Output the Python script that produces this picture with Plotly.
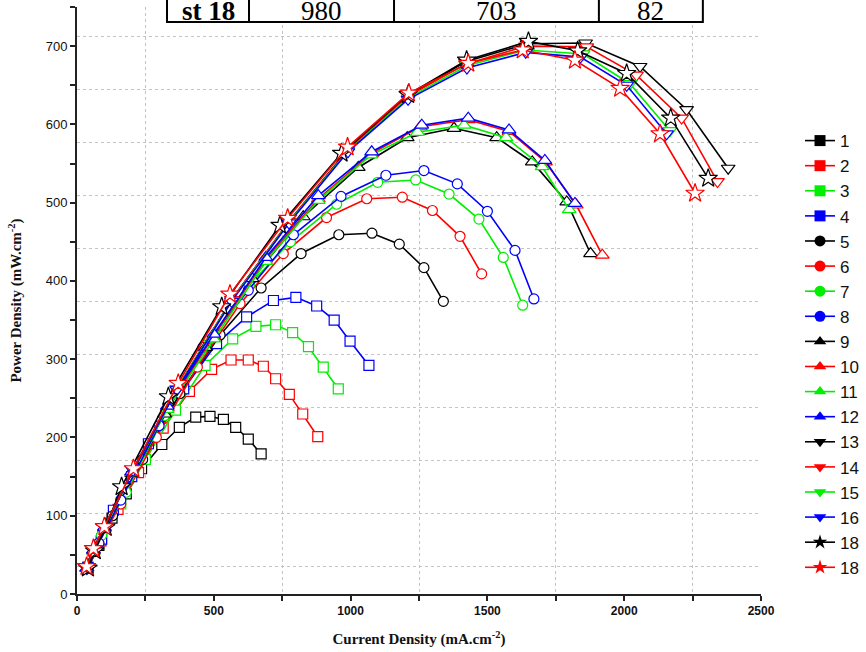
import plotly.graph_objects as go

# ---------------- data ----------------
names = ["1", "2", "3", "4", "5", "6", "7", "8", "9", "10", "11", "12",
         "13", "14", "15", "16", "18", "18"]
colors = ["#000000", "#ff0000", "#00ee00", "#0000ff"] * 4 + ["#000000", "#ff0000"]
symbols = ["square"] * 4 + ["circle"] * 4 + ["triangle-up"] * 4 + ["triangle-down"] * 4 + ["star"] * 2

x1 = [40, 80, 128, 180, 236, 310, 374, 434, 486, 535, 580, 626, 673]
y1 = [33, 62, 97, 128, 160, 191, 213, 226, 227, 223, 213, 198, 179]
x2 = [40, 88, 150, 225, 315, 411, 492, 563, 626, 681, 726, 776, 825, 880]
y2 = [34, 68, 108, 155, 212, 259, 287, 299, 299, 291, 275, 255, 230, 201]
x3 = [40, 90, 160, 250, 360, 468, 569, 654, 726, 788, 846, 900, 955]
y3 = [34, 70, 115, 172, 235, 292, 326, 342, 344, 334, 316, 290, 262]
x4 = [40, 90, 133, 200, 261, 390, 510, 620, 718, 800, 876, 940, 998, 1067]
y4 = [34, 70, 107, 150, 192, 262, 320, 354, 375, 379, 368, 350, 323, 292]
x5 = [38, 62, 130, 240, 376, 523, 673, 819, 957, 1078, 1178, 1268, 1339]
y5 = [33, 54, 100, 172, 256, 331, 391, 435, 459, 461, 447, 417, 374]
x6 = [38, 80, 160, 290, 440, 596, 754, 912, 1059, 1189, 1299, 1400, 1479]
y6 = [34, 65, 115, 200, 290, 371, 435, 481, 505, 507, 490, 457, 409]
x7 = [38, 90, 180, 320, 470, 630, 780, 949, 1099, 1238, 1360, 1469, 1558, 1629]
y7 = [34, 75, 130, 228, 318, 395, 450, 498, 526, 529, 511, 479, 430, 369]
x8 = [38, 80, 160, 300, 460, 626, 791, 965, 1129, 1268, 1390, 1500, 1601, 1670]
y8 = [34, 65, 120, 215, 315, 388, 459, 508, 535, 541, 524, 489, 439, 377]
x9 = [36, 60, 100, 200, 320, 470, 640, 827, 1028, 1207, 1378, 1534, 1664, 1790, 1877]
y9 = [33, 55, 84, 154, 230, 315, 403, 482, 545, 583, 595, 583, 552, 501, 435]
x10 = [36, 60, 100, 200, 330, 500, 690, 882, 1077, 1255, 1430, 1579, 1712, 1825, 1920]
y10 = [33, 56, 85, 156, 238, 330, 428, 505, 563, 597, 606, 591, 552, 497, 433]
x11 = [36, 60, 100, 200, 330, 500, 690, 882, 1075, 1245, 1415, 1568, 1700, 1799]
y11 = [33, 55, 84, 155, 236, 326, 425, 503, 561, 590, 599, 583, 546, 491]
x12 = [36, 60, 100, 200, 330, 500, 690, 882, 1077, 1260, 1430, 1579, 1710, 1820]
y12 = [33, 56, 85, 156, 240, 332, 430, 509, 565, 599, 608, 593, 554, 499]
x13 = [36, 60, 100, 205, 365, 565, 775, 990, 1210, 1420, 1645, 1859, 2058, 2228, 2380]
y13 = [33, 57, 86, 158, 262, 376, 476, 568, 637, 680, 703, 704, 674, 619, 544]
x14 = [36, 60, 100, 205, 365, 565, 775, 990, 1210, 1420, 1640, 1863, 2045, 2210, 2341]
y14 = [33, 57, 86, 158, 262, 376, 476, 567, 636, 677, 700, 699, 663, 608, 527]
x15 = [36, 60, 100, 205, 365, 565, 775, 990, 1210, 1425, 1640, 1850, 2021, 2167]
y15 = [33, 57, 86, 158, 262, 375, 475, 566, 634, 675, 695, 690, 652, 592]
x16 = [36, 60, 100, 205, 365, 565, 775, 990, 1210, 1425, 1640, 1840, 2009, 2155]
y16 = [33, 57, 86, 158, 261, 374, 474, 565, 632, 672, 692, 686, 650, 588]
x17 = [40, 65, 105, 163, 334, 529, 742, 967, 1210, 1424, 1650, 1830, 2009, 2170, 2307]
y17 = [33, 55, 85, 137, 252, 367, 471, 563, 638, 682, 706, 694, 665, 608, 531]
x18 = [35, 60, 100, 206, 370, 559, 770, 989, 1213, 1430, 1629, 1820, 1985, 2131, 2259]
y18 = [35, 58, 86, 160, 269, 383, 480, 571, 640, 678, 695, 682, 646, 588, 512]

xs = [x1, x2, x3, x4, x5, x6, x7, x8, x9, x10, x11, x12, x13, x14, x15, x16, x17, x18]
ys = [y1, y2, y3, y4, y5, y6, y7, y8, y9, y10, y11, y12, y13, y14, y15, y16, y17, y18]

table_cells = ["st 18", "980", "703", "82"]

# ---------------- figure ----------------
fig = go.Figure()
for i in range(len(names)):
    sym = symbols[i]
    size = 10 if sym in ("square", "circle") else (12 if "triangle" in sym else 14)
    fig.add_trace(go.Scatter(
        x=xs[i], y=ys[i], mode="lines+markers", showlegend=False,
        line=dict(color=colors[i], width=1.6),
        marker=dict(symbol=sym, size=size, color="white",
                    line=dict(color=colors[i], width=1.2)),
    ))

# legend entries (filled markers, as in the reference legend)
for i in range(len(names)):
    fig.add_trace(go.Scatter(
        x=[None], y=[None], mode="lines+markers", name=names[i],
        legendgroup="g%d" % i,
        line=dict(color=colors[i], width=1.6),
        marker=dict(symbol=symbols[i], size=11, color=colors[i],
                    line=dict(color=colors[i], width=0)),
    ))

# invisible overlay axis carrying the horizontal dotted grid
fig.add_trace(go.Scatter(x=[None], y=[None], yaxis="y2", showlegend=False, hoverinfo="skip"))

axis_col = "#222222"
grid_col = "#c4c4c4"

fig.update_layout(
    width=866, height=652,
    margin=dict(l=77, r=105, t=7, b=58, autoexpand=False),
    plot_bgcolor="white", paper_bgcolor="white",
    showlegend=True,
    legend=dict(xref="container", yref="container", x=0.9238, y=0.8113,
                xanchor="left", yanchor="top", maxheight=600,
                font=dict(family="Liberation Sans, Arial", size=17, color="#111"),
                tracegroupgap=0, bgcolor="rgba(0,0,0,0)", borderwidth=0),
    xaxis=dict(range=[0, 2500], dtick=500, tick0=0, showgrid=False, zeroline=False,
               automargin=False,
               showline=True, linecolor=axis_col, linewidth=2,
               ticks="outside", ticklen=5, tickwidth=1.5, tickcolor=axis_col,
               tickfont=dict(family="Liberation Sans Narrow, Liberation Sans, Arial",
                             size=12, color="#111", weight="bold"),
               minor=dict(dtick=250, ticks="outside", ticklen=5, tickwidth=1.5,
                          tickcolor=axis_col, showgrid=True, gridcolor=grid_col,
                          griddash="dot", gridwidth=1),
               title=dict(text="<b>Current Density (mA.cm<sup>-2</sup>)</b>",
                          font=dict(family="Liberation Serif, Times New Roman", size=15, color="#111"),
                          standoff=16)),
    yaxis=dict(range=[0, 750], dtick=100, tick0=0, showgrid=False, zeroline=False,
               automargin=False,
               showline=True, linecolor=axis_col, linewidth=2,
               ticks="outside", ticklen=5, tickwidth=1.5, tickcolor=axis_col,
               tickfont=dict(family="Liberation Sans, Arial", size=13, color="#111"),
               minor=dict(dtick=50, ticks="outside", ticklen=5, tickwidth=1.5,
                          tickcolor=axis_col, showgrid=False),
               title=dict(text="<b>Power Density (mW.cm<sup>-2</sup>)</b>",
                          font=dict(family="Liberation Serif, Times New Roman", size=15, color="#111"),
                          standoff=20)),
    yaxis2=dict(range=[0, 750], overlaying="y", side="left", tick0=35.5, dtick=67.7,
                automargin=False,
                showgrid=True, gridcolor=grid_col, griddash="dot", gridwidth=1,
                showticklabels=False, ticks="", showline=False, zeroline=False),
)

# table at the top (decoration, paper coordinates)
x_edges = [0.1316, 0.2515, 0.4635, 0.763, 0.915]
y_bot, y_top = 0.9744, 1.08
fig.add_shape(type="rect", xref="paper", yref="paper", x0=x_edges[0], x1=x_edges[-1],
              y0=y_bot, y1=y_top, line=dict(color="black", width=2), fillcolor="white", layer="above")
for xe in x_edges[1:-1]:
    fig.add_shape(type="line", xref="paper", yref="paper", x0=xe, x1=xe, y0=y_bot, y1=y_top,
                  line=dict(color="black", width=2), layer="above")
for j, txt in enumerate(table_cells):
    fig.add_annotation(xref="paper", yref="paper", x=(x_edges[j] + x_edges[j + 1]) / 2,
                       y=y_bot, xanchor="center", yanchor="bottom", yshift=-6, showarrow=False,
                       text=("<b>%s</b>" % txt) if j == 0 else txt,
                       font=dict(family="Liberation Serif, Times New Roman", size=27, color="black"))

# remove the default 8px page margin so the figure sits at the window's top-left corner
fig.write_html("out.html", config={"displayModeBar": False},
               post_script="document.body.style.margin='0';")
